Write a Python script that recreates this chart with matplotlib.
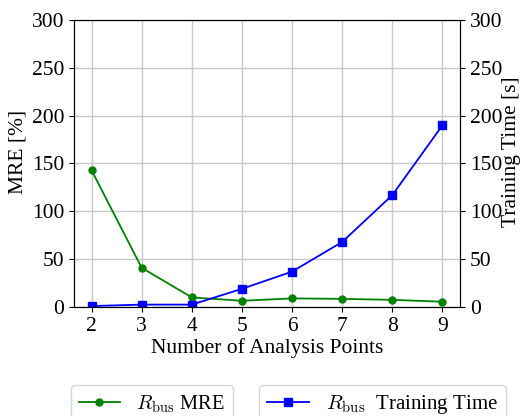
import matplotlib
matplotlib.use("Agg")
import matplotlib.pyplot as plt

points = [2, 3, 4, 5, 6, 7, 8, 9]
mre = [143, 41, 10, 6.5, 9, 8.5, 7.5, 5.5]
train_time = [1, 2.5, 2.5, 19, 37, 68, 117, 190]

plt.rcParams['font.family'] = ['Liberation Serif', 'DejaVu Serif']
plt.rcParams['mathtext.fontset'] = 'cm'
plt.rcParams['font.size'] = 15.5

fig, ax1 = plt.subplots(figsize=(5.21, 4.16), dpi=100)
fig.subplots_adjust(left=0.142, right=0.883, top=0.952, bottom=0.262)

l1, = ax1.plot(points, mre, color='green', marker='o', markersize=5, linewidth=1.3,
               label=r'$R_{\rm bus}$ MRE')
ax1.set_ylim(0, 300)
ax1.set_xticks(points)
ax1.set_xlabel('Number of Analysis Points', labelpad=2)
ax1.set_ylabel('MRE [%]', labelpad=3, y=0.54)
ax1.grid(True, color='#c8c8c8', linewidth=1)

ax2 = ax1.twinx()
l2, = ax2.plot(points, train_time, color='blue', marker='s', markersize=6, linewidth=1.3,
               label=r'$R_{\rm bus}$  Training Time')
ax2.set_ylim(0, 300)
ax2.set_ylabel('Training Time [s]', labelpad=0, y=0.54)

fig.legend(handles=[l1], loc='upper left', bbox_to_anchor=(0.136, 0.0745), borderaxespad=0, fontsize=14.7)
fig.legend(handles=[l2], loc='upper left', bbox_to_anchor=(0.497, 0.0745), borderaxespad=0, fontsize=15)

fig.savefig('out.png', dpi=100)
